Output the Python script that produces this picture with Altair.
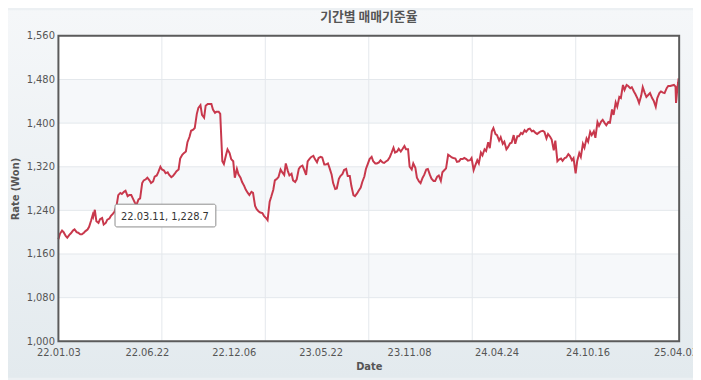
import altair as alt
import pandas as pd

title_text = ["기간별 매매기준율"]

# Monday of each week
week_starts = [
    "2022-01-03","2022-01-10","2022-01-17","2022-01-24","2022-01-31","2022-02-07","2022-02-14","2022-02-21","2022-02-28","2022-03-07",
    "2022-03-14","2022-03-21","2022-03-28","2022-04-04","2022-04-11","2022-04-18","2022-04-25","2022-05-02","2022-05-09","2022-05-16",
    "2022-05-23","2022-05-30","2022-06-06","2022-06-13","2022-06-20","2022-06-27","2022-07-04","2022-07-11","2022-07-18","2022-07-25",
    "2022-08-01","2022-08-08","2022-08-15","2022-08-22","2022-08-29","2022-09-05","2022-09-12","2022-09-19","2022-09-26","2022-10-03",
    "2022-10-10","2022-10-17","2022-10-24","2022-10-31","2022-11-07","2022-11-14","2022-11-21","2022-11-28","2022-12-05","2022-12-12",
    "2022-12-19","2022-12-26","2023-01-02","2023-01-09","2023-01-16","2023-01-23","2023-01-30","2023-02-06","2023-02-13","2023-02-20",
    "2023-02-27","2023-03-06","2023-03-13","2023-03-20","2023-03-27","2023-04-03","2023-04-10","2023-04-17","2023-04-24","2023-05-01",
    "2023-05-08","2023-05-15","2023-05-22","2023-05-29","2023-06-05","2023-06-12","2023-06-19","2023-06-26","2023-07-03","2023-07-10",
    "2023-07-17","2023-07-24","2023-07-31","2023-08-07","2023-08-14","2023-08-21","2023-08-28","2023-09-04","2023-09-11","2023-09-18",
    "2023-09-25","2023-10-02","2023-10-09","2023-10-16","2023-10-23","2023-10-30","2023-11-06","2023-11-13","2023-11-20","2023-11-27",
    "2023-12-04","2023-12-11","2023-12-18","2023-12-25","2024-01-01","2024-01-08","2024-01-15","2024-01-22","2024-01-29","2024-02-05",
    "2024-02-12","2024-02-19","2024-02-26","2024-03-04","2024-03-11","2024-03-18","2024-03-25","2024-04-01","2024-04-08","2024-04-15",
    "2024-04-22","2024-04-29","2024-05-06","2024-05-13","2024-05-20","2024-05-27","2024-06-03","2024-06-10","2024-06-17","2024-06-24",
    "2024-07-01","2024-07-08","2024-07-15","2024-07-22","2024-07-29","2024-08-05","2024-08-12","2024-08-19","2024-08-26","2024-09-02",
    "2024-09-09","2024-09-16","2024-09-23","2024-09-30","2024-10-07","2024-10-14","2024-10-21","2024-10-28","2024-11-04","2024-11-11",
    "2024-11-18","2024-11-25","2024-12-02","2024-12-09","2024-12-16","2024-12-23","2024-12-30","2025-01-06","2025-01-13","2025-01-20",
    "2025-01-27","2025-02-03","2025-02-10","2025-02-17","2025-02-24","2025-03-03","2025-03-10","2025-03-17","2025-03-24","2025-03-31",
]

# rate on each Monday
mon_rates = [
    1187, 1203, 1193, 1195, 1203, 1200, 1196, 1199, 1205, 1222,
    1241, 1217, 1226, 1217, 1225, 1234, 1250, 1272, 1274, 1266,
    1268, 1254, 1260, 1290, 1297, 1295, 1293, 1304, 1320, 1313,
    1310, 1301, 1308, 1315, 1342, 1348, 1375, 1388, 1417, 1433,
    1410, 1435, 1435, 1419, 1421, 1330, 1341, 1345, 1330, 1316,
    1300, 1285, 1272, 1274, 1248, 1238, 1235, 1226, 1256, 1278,
    1298, 1315, 1305, 1312, 1307, 1292, 1316, 1322, 1305, 1335,
    1340, 1328, 1338, 1324, 1326, 1306, 1279, 1298, 1307, 1316,
    1303, 1268, 1271, 1282, 1302, 1326, 1338, 1326, 1328, 1328,
    1330, 1338, 1355, 1348, 1348, 1358, 1352, 1315, 1318, 1293,
    1300, 1315, 1305, 1294, 1302, 1294, 1314, 1342, 1337, 1335,
    1330, 1334, 1334, 1332, 1314, 1332, 1346, 1352, 1365, 1385,
    1380, 1368, 1362, 1352, 1363, 1378, 1376, 1382, 1387, 1389,
    1385, 1382, 1383, 1386, 1372, 1375, 1350, 1330, 1335, 1336,
    1343, 1332, 1308, 1345, 1362, 1372, 1384, 1385, 1402, 1403,
    1400, 1402, 1425, 1438, 1448, 1470, 1470, 1464, 1458, 1445,
    1450, 1455, 1452, 1446, 1430, 1455, 1456, 1464, 1468, 1470,
]

# rate on the Thursday of each week (first 169 weeks)
thu_rates = [
    1197, 1200, 1190, 1198, 1205, 1199, 1196, 1202, 1210, 1232,
    1220, 1224, 1214, 1223, 1230, 1238, 1268, 1270, 1276, 1268,
    1262, 1250, 1262, 1295, 1300, 1290, 1302, 1310, 1315, 1308,
    1305, 1303, 1312, 1335, 1345, 1365, 1386, 1391, 1428, 1415,
    1432, 1435, 1425, 1421, 1417, 1325, 1352, 1334, 1300, 1306,
    1292, 1278, 1268, 1272, 1242, 1236, 1230, 1222, 1265, 1295,
    1301, 1310, 1326, 1304, 1295, 1297, 1320, 1315, 1330, 1338,
    1334, 1336, 1337, 1324, 1318, 1290, 1280, 1303, 1314, 1303,
    1285, 1266, 1276, 1292, 1316, 1334, 1330, 1326, 1332, 1327,
    1332, 1345, 1346, 1353, 1352, 1352, 1320, 1326, 1300, 1290,
    1305, 1316, 1298, 1294, 1304, 1310, 1317, 1340, 1336, 1329,
    1334, 1336, 1331, 1336, 1322, 1326, 1341, 1349, 1354, 1391,
    1378, 1374, 1366, 1356, 1364, 1362, 1376, 1380, 1384, 1390,
    1386, 1380, 1385, 1384, 1380, 1370, 1368, 1333, 1331, 1337,
    1340, 1336, 1330, 1338, 1355, 1366, 1378, 1373, 1395, 1406,
    1396, 1401, 1415, 1430, 1446, 1461, 1468, 1466, 1453, 1437,
    1466, 1448, 1455, 1441, 1446, 1458, 1455, 1468, 1469,
]

extra_dates = ["2022-03-11", "2025-04-03", "2025-04-04", "2025-04-07", "2025-04-08", "2025-04-09"]
extra_rates = [1228.7, 1467, 1437, 1468, 1474, 1482]

y_ticks = [1000, 1080, 1160, 1240, 1320, 1400, 1480, 1560]
x_label_dates = ["2022-01-03", "2022-06-22", "2022-12-06", "2023-05-22",
                 "2023-11-08", "2024-04-24", "2024-10-16", "2025-04-03"]
x_domain = ["2022-01-03", "2025-04-10"]
tip_date = ["2022-03-11"]
tip_value = [1228.7]
tip_text = ["22.03.11, 1,228.7"]

W, H = 628, 309
PAD = {"left": 51, "top": 26, "right": 14, "bottom": 37}
FONT = "DejaVu Sans"
LINE_COLOR = "#c8384c"


def dt(s):
    t = pd.Timestamp(s)
    return alt.DateTime(year=t.year, month=t.month, date=t.day)


mondays = pd.to_datetime(week_starts)
thursdays = mondays[:len(thu_rates)] + pd.Timedelta(days=3)
df = pd.concat([
    pd.DataFrame({"date": mondays, "rate": mon_rates}),
    pd.DataFrame({"date": thursdays, "rate": thu_rates}),
    pd.DataFrame({"date": pd.to_datetime(extra_dates), "rate": extra_rates}),
]).sort_values("date").reset_index(drop=True)

d0, d1 = pd.Timestamp(x_domain[0]), pd.Timestamp(x_domain[1])
grid_dates = [d0 + (d1 - d0) * i / 6 for i in range(1, 6)]
vgrid_df = pd.DataFrame({"date": grid_dates})
hgrid_df = pd.DataFrame({"rate": y_ticks})
band_df = pd.DataFrame({"rate": y_ticks[1:-1:2], "hi": y_ticks[2::2]})
tip_df = pd.DataFrame({"date": pd.to_datetime(tip_date), "rate": tip_value, "label": tip_text})
title_df = pd.DataFrame({"t": title_text})
one = pd.DataFrame({"a": [0]})

x_scale = alt.Scale(domain=[dt(x_domain[0]), dt(x_domain[1])], nice=False)
y_scale = alt.Scale(domain=[y_ticks[0], y_ticks[-1]], nice=False, zero=False)

x_axis = alt.Axis(values=[dt(s) for s in x_label_dates], format="%y.%m.%d",
                  grid=False, domain=False, ticks=False, labelPadding=6,
                  labelFont=FONT, labelFontSize=10, labelColor="#555555",
                  labelOverlap=False, labelFlush=False,
                  titleFont=FONT, titleFontSize=10, titleFontWeight="bold",
                  titleColor="#555555", titlePadding=5, zindex=1)
y_axis = alt.Axis(values=y_ticks, format=",.0f", grid=False, domain=False, ticks=False,
                  labelPadding=4, labelFont=FONT, labelFontSize=10,
                  labelColor="#555555", labelFlush=False,
                  titleFont=FONT, titleFontSize=10, titleFontWeight="bold",
                  titleColor="#555555", titlePadding=6, zindex=1)

X = alt.X("date:T", scale=x_scale, title="Date", axis=x_axis)
Y = alt.Y("rate:Q", scale=y_scale, title="Rate (Won)", axis=y_axis)

bg = alt.Chart(one).mark_rect(
    color=alt.Gradient(
        gradient="linear",
        stops=[alt.GradientStop(color="#f5f7f9", offset=0),
               alt.GradientStop(color="#e3eaee", offset=1)],
        x1=0, x2=0, y1=0, y2=1,
    )
).encode(x=alt.value(-PAD["left"]), x2=alt.value(W + PAD["right"]),
         y=alt.value(-PAD["top"]), y2=alt.value(H + PAD["bottom"]))

plot_bg = alt.Chart(one).mark_rect(color="white").encode(
    x=alt.value(0), x2=alt.value(W), y=alt.value(0), y2=alt.value(H))

bands = alt.Chart(band_df).mark_rect(color="#f6f8fa").encode(
    y=Y, y2="hi:Q", x=alt.value(0), x2=alt.value(W))

hgrid = alt.Chart(hgrid_df).mark_rule(color="#e4e8ec", strokeWidth=1).encode(
    y=Y, x=alt.value(0), x2=alt.value(W))

vgrid = alt.Chart(vgrid_df).mark_rule(color="#e4e8ec", strokeWidth=1).encode(
    x=X, y=alt.value(0), y2=alt.value(H))

line = alt.Chart(df).mark_line(color=LINE_COLOR, strokeWidth=2, interpolate="linear").encode(
    x=X, y=Y)

tip_box = alt.Chart(tip_df).mark_rect(
    fill="white", stroke="#8c8c8c", strokeWidth=1, cornerRadius=2,
    xOffset=22, x2Offset=124, yOffset=-12.5, y2Offset=10.5,
).encode(x=X, x2="date:T", y=Y, y2="rate:Q")

tip_label = alt.Chart(tip_df).mark_text(
    align="left", baseline="middle", dx=28, dy=0, font=FONT, fontSize=10, color="#333333",
).encode(x=X, y=Y, text="label:N")

border = alt.Chart(one).mark_rect(fillOpacity=0, stroke="#5b5b5b", strokeWidth=2).encode(
    x=alt.value(0), x2=alt.value(W), y=alt.value(0), y2=alt.value(H))

title_mark = alt.Chart(title_df).mark_text(
    font="Noto Sans CJK KR", fontSize=13, fontWeight="bold", color="#555555",
    align="center", baseline="middle",
).encode(x=alt.value(W / 2), y=alt.value(-19), text="t:N")

chart = alt.layer(bg, plot_bg, bands, hgrid, vgrid, line, tip_box, tip_label, border,
                  title_mark).properties(
    width=W, height=H,
    padding=PAD,
    autosize=alt.AutoSizeParams(type="none"),
    background="#ecf0f3",
).configure_view(stroke=None, fill="white")

chart.save("out.html", embed_options={"renderer": "svg", "actions": False})
